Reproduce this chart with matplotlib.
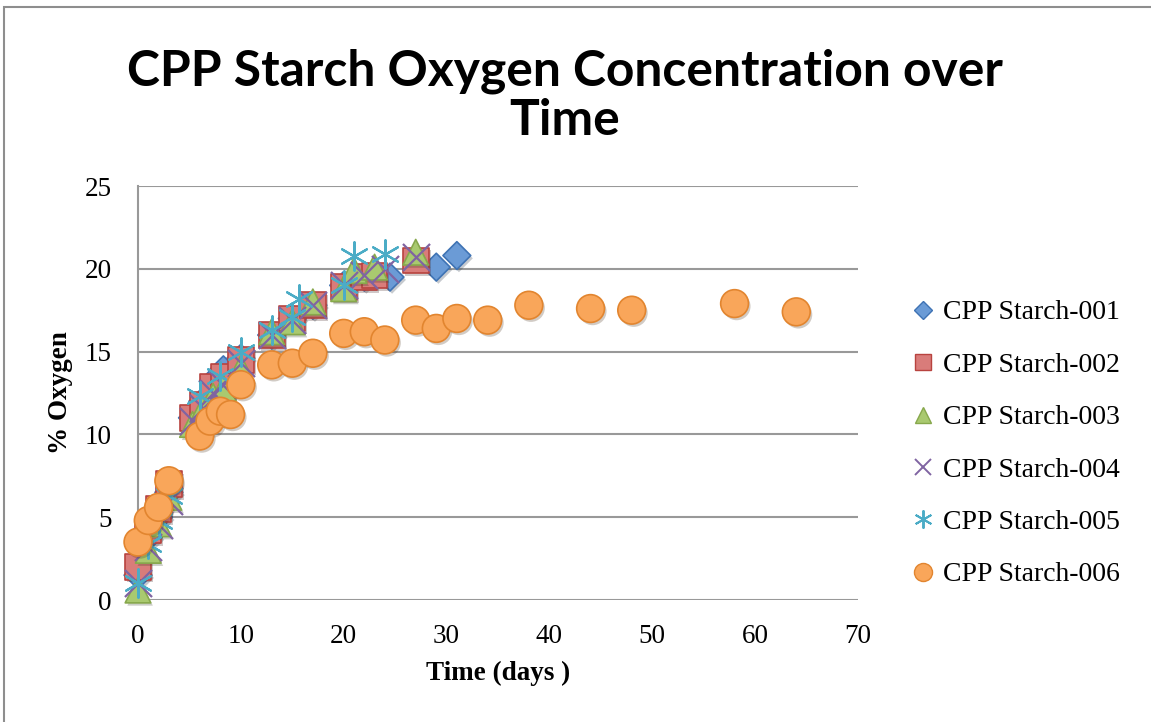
import matplotlib
matplotlib.use("Agg")
import matplotlib.pyplot as plt
from matplotlib.patches import Rectangle
from matplotlib.lines import Line2D
import matplotlib.patheffects as pe

# data
labels = ["CPP Starch-001", "CPP Starch-002", "CPP Starch-003",
          "CPP Starch-004", "CPP Starch-005", "CPP Starch-006"]

days_001 = [0, 1, 2, 3, 5.3, 6.3, 7.3, 8.3, 10, 13, 15, 17, 20, 22, 24.5, 29, 31]
oxy_001 = [1.5, 3.8, 5.0, 6.5, 11.0, 12.0, 13.2, 13.9, 14.6, 16.0, 17.0, 17.8,
           19.0, 19.5, 19.5, 20.1, 20.8]

days_002 = [0, 1, 2, 3, 5.3, 6.3, 7.3, 8.3, 10, 13, 15, 17, 20, 22, 23, 27]
oxy_002 = [2.0, 4.2, 5.5, 7.0, 11.0, 11.8, 12.9, 13.5, 14.5, 16.0, 17.0, 17.8,
           18.9, 19.5, 19.6, 20.5]

days_003 = [0, 1, 2, 3, 5.3, 6.3, 7.3, 8.3, 10, 13, 15, 17, 20, 21, 23, 27]
oxy_003 = [0.6, 3.0, 4.6, 6.2, 10.6, 11.5, 12.3, 12.8, 14.0, 16.2, 16.8, 18.0,
           18.8, 19.9, 20.1, 21.0]

days_004 = [0, 1, 2, 3, 5.3, 6.3, 7.3, 8.3, 10, 13, 15, 17, 20, 22, 24, 27]
oxy_004 = [1.0, 3.2, 4.5, 6.0, 10.8, 11.6, 12.5, 13.0, 14.3, 16.0, 16.9, 17.8,
           19.0, 19.6, 20.0, 20.7]

days_005 = [0, 1, 2, 3, 6, 8, 10, 13, 15, 15.7, 20, 21, 24]
oxy_005 = [1.0, 3.4, 4.8, 6.3, 12.3, 13.5, 15.0, 16.3, 17.1, 18.2, 19.0, 20.8, 20.9]

days_006 = [0, 1, 2, 3, 6, 7, 8, 9, 10, 13, 15, 17, 20, 22, 24, 27, 29, 31,
            34, 38, 44, 48, 58, 64]
oxy_006 = [3.5, 4.8, 5.6, 7.2, 9.9, 10.8, 11.4, 11.2, 13.0, 14.2, 14.3, 14.9,
           16.1, 16.2, 15.7, 16.9, 16.4, 17.0, 16.9, 17.8, 17.6, 17.5, 17.9, 17.4]

serif = "Liberation Serif"

fig = plt.figure(figsize=(11.51, 7.22), dpi=100)
ax = fig.add_axes([138 / 1151, 1 - 600 / 722, 720 / 1151, 414 / 722])

# chart border, runs off the right and bottom edges like the screenshot
fig.patches.append(Rectangle((4 / 1151, -0.2), 1.3, 1.2 - 7 / 722,
                             transform=fig.transFigure, fill=False,
                             edgecolor="#8e8e8e", linewidth=1.5))

shadow = [pe.SimplePatchShadow(offset=(1.5, -2), alpha=0.25), pe.Normal()]

ax.scatter(days_001, oxy_001, marker="D", s=200, color="#6b9bd6",
           edgecolor="#3f73b4", linewidth=1.2, path_effects=shadow,
           zorder=3, clip_on=False)
ax.scatter(days_002, oxy_002, marker="s", s=340, color="#d97c7a",
           edgecolor="#b8433f", linewidth=1.2, path_effects=shadow,
           zorder=3, clip_on=False)
ax.scatter(days_003, oxy_003, marker="^", s=340, color="#a9c96f",
           edgecolor="#87a84c", linewidth=1.2, path_effects=shadow,
           zorder=3, clip_on=False)
ax.scatter(days_004, oxy_004, marker="x", s=380, color="#8064a2",
           linewidth=1.6, zorder=3, clip_on=False)
ax.scatter(days_005, oxy_005, marker=(6, 2, 0), s=420, color="#4bacc6",
           linewidth=1.6, zorder=3, clip_on=False)
ax.scatter(days_006, oxy_006, marker="o", s=400, color="#f9a65a",
           edgecolor="#e2852f", linewidth=1.2, path_effects=shadow,
           zorder=3, clip_on=False)

ax.set_xlim(0, 70)
ax.set_ylim(0, 25)
ax.set_xticks(range(0, 71, 10))
ax.set_yticks(range(0, 26, 5))
ax.tick_params(length=0, labelsize=19.5)
ax.tick_params(axis="y", pad=19)
ax.tick_params(axis="x", pad=17)
for lab in ax.get_xticklabels() + ax.get_yticklabels():
    lab.set_fontfamily(serif)

ax.grid(axis="y", color="#999999", linewidth=1.5)
ax.set_axisbelow(True)
for side in ["top", "right", "bottom"]:
    ax.spines[side].set_visible(False)
ax.spines["left"].set_color("#999999")
ax.spines["left"].set_linewidth(1.5)

ax.set_xlabel("Time (days )", fontfamily=serif, fontweight="bold",
              fontsize=19.5, labelpad=9)
ax.set_ylabel("% Oxygen", fontfamily=serif, fontweight="bold",
              fontsize=19.5, labelpad=8)

fig.text(565 / 1151, 1 - 85 / 722, "CPP Starch Oxygen Concentration over",
         ha="center", va="baseline", fontfamily="Lato", fontweight="bold",
         fontsize=35.8)
fig.text(565 / 1151, 1 - 135 / 722, "Time",
         ha="center", va="baseline", fontfamily="Lato", fontweight="bold",
         fontsize=35.8)

handles = [
    Line2D([], [], ls="", marker="D", ms=9, mfc="#6b9bd6", mec="#3f73b4"),
    Line2D([], [], ls="", marker="s", ms=12, mfc="#d97c7a", mec="#b8433f"),
    Line2D([], [], ls="", marker="^", ms=12, mfc="#a9c96f", mec="#87a84c"),
    Line2D([], [], ls="", marker="x", ms=12, mew=1.4, color="#8064a2"),
    Line2D([], [], ls="", marker=(6, 2, 0), ms=13, mew=1.4, color="#4bacc6"),
    Line2D([], [], ls="", marker="o", ms=13, mfc="#f9a65a", mec="#e2852f"),
]
fig.legend(handles, labels, loc="upper left",
           bbox_to_anchor=(912 / 1151, 1 - 300 / 722),
           frameon=False, prop={"family": serif, "size": 20},
           handlelength=0.8, handletextpad=0.3, labelspacing=0.97,
           borderpad=0, borderaxespad=0)

fig.savefig("out.png", dpi=100)
